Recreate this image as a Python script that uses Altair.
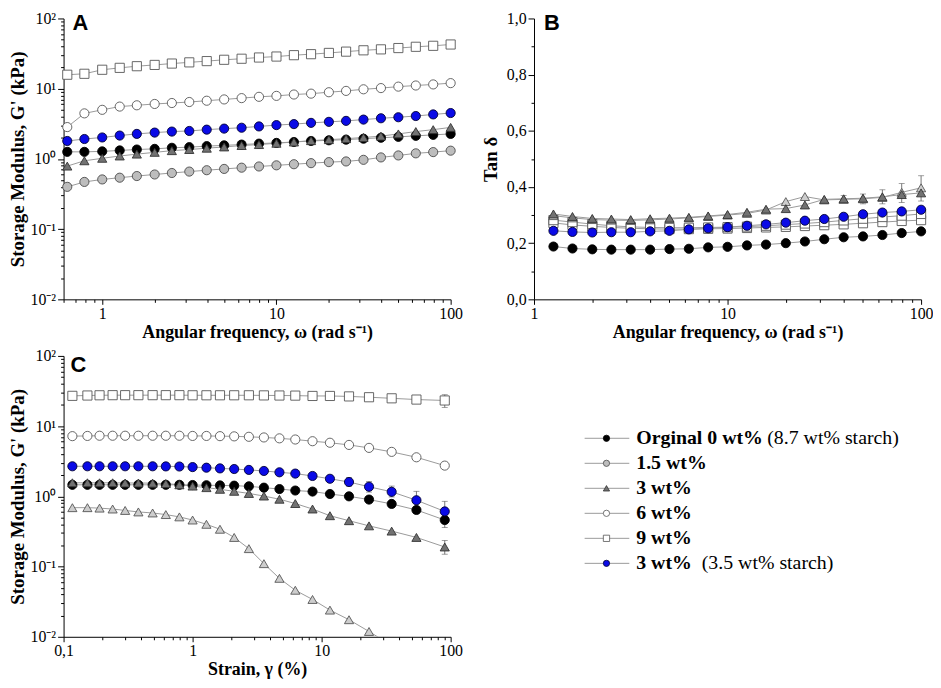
import altair as alt
import pandas as pd

# ---------------- data ----------------
# Panel A: storage modulus vs angular frequency
freq_a = [0.63, 0.79, 1.0, 1.26, 1.58, 2.0, 2.51, 3.16, 3.98, 5.01, 6.31, 7.94,
          10, 12.6, 15.8, 20, 25.1, 31.6, 39.8, 50.1, 63.1, 79.4, 100]
a_orig = [1.26, 1.26, 1.28, 1.32, 1.36, 1.39, 1.44, 1.47, 1.52, 1.56, 1.60, 1.65,
          1.69, 1.74, 1.80, 1.84, 1.88, 1.94, 2.00, 2.06, 2.13, 2.20, 2.27]
a_15 = [0.40, 0.47, 0.51, 0.54, 0.57, 0.60, 0.63, 0.66, 0.69, 0.72, 0.75, 0.78,
        0.81, 0.84, 0.87, 0.90, 0.92, 0.97, 1.05, 1.12, 1.20, 1.25, 1.31]
a_3 = [0.79, 0.94, 1.02, 1.10, 1.17, 1.24, 1.31, 1.36, 1.42, 1.48, 1.55, 1.60,
       1.67, 1.74, 1.82, 1.88, 1.94, 2.02, 2.11, 2.27, 2.45, 2.61, 2.81]
a_6 = [2.84, 4.45, 5.0, 5.56, 5.8, 6.06, 6.25, 6.46, 6.74, 7.03, 7.34, 7.66,
       7.9, 8.26, 8.5, 8.9, 9.3, 9.8, 10.2, 10.7, 11.1, 11.5, 12.0]
a_9 = [15.8, 16.3, 18.6, 19.8, 20.9, 21.8, 22.8, 23.7, 24.7, 25.8, 26.7, 27.8,
       28.7, 30.0, 31.0, 32.3, 33.7, 35.2, 36.3, 37.9, 39.5, 40.8, 42.6]
a_blue = [1.80, 1.92, 2.02, 2.15, 2.27, 2.37, 2.45, 2.50, 2.61, 2.70, 2.78, 2.90,
          3.03, 3.13, 3.26, 3.37, 3.48, 3.63, 3.79, 3.92, 4.08, 4.30, 4.50]

# Panel B: tan delta vs angular frequency
freq_b = [1.26, 1.58, 2.0, 2.51, 3.16, 3.98, 5.01, 6.31, 7.94, 10, 12.6, 15.8,
          20, 25.1, 31.6, 39.8, 50.1, 63.1, 79.4, 100]
b_orig = [0.188, 0.181, 0.178, 0.177, 0.177, 0.177, 0.179, 0.180, 0.185, 0.187,
          0.192, 0.195, 0.200, 0.206, 0.214, 0.221, 0.224, 0.229, 0.236, 0.242]
b_blue = [0.244, 0.240, 0.238, 0.239, 0.239, 0.242, 0.244, 0.249, 0.253, 0.257,
          0.262, 0.267, 0.273, 0.280, 0.286, 0.294, 0.303, 0.309, 0.313, 0.319]
b_3 = [0.304, 0.295, 0.288, 0.286, 0.284, 0.287, 0.289, 0.292, 0.297, 0.302,
       0.310, 0.321, 0.323, 0.336, 0.356, 0.358, 0.360, 0.365, 0.373, 0.379]
b_15 = [0.298, 0.290, 0.284, 0.282, 0.281, 0.283, 0.286, 0.290, 0.295, 0.300,
        0.306, 0.318, 0.348, 0.366, 0.354, 0.356, 0.358, 0.363, 0.381, 0.397]
b_6 = [0.282, 0.275, 0.268, 0.262, 0.258, 0.256, 0.255, 0.255, 0.256, 0.257,
       0.259, 0.262, 0.266, 0.270, 0.275, 0.281, 0.287, 0.293, 0.298, 0.304]
b_9 = [0.272, 0.265, 0.260, 0.256, 0.253, 0.251, 0.250, 0.250, 0.251, 0.252,
       0.254, 0.256, 0.258, 0.261, 0.264, 0.267, 0.271, 0.275, 0.279, 0.282]
# error bars (panel B)
eb_x = [39.8, 50.1, 63.1, 79.4, 100]
eb_lo = [0.345, 0.340, 0.340, 0.345, 0.350]
eb_hi = [0.370, 0.375, 0.390, 0.412, 0.440]

# Panel C: storage modulus vs strain
strain_c = [0.117, 0.153, 0.19, 0.24, 0.30, 0.38, 0.49, 0.62, 0.79, 1.0, 1.28, 1.63,
            2.1, 2.73, 3.57, 4.71, 6.25, 8.5, 11.6, 16.3, 23.3, 34.9, 54.3, 90]
c_9 = [27.0, 27.3, 27.5, 27.6, 27.6, 27.6, 27.6, 27.6, 27.6, 27.5, 27.5, 27.5,
       27.5, 27.5, 27.4, 27.3, 27.2, 26.9, 26.9, 26.5, 25.8, 24.9, 23.9, 23.2]
c_6 = [7.2, 7.25, 7.3, 7.3, 7.3, 7.3, 7.3, 7.3, 7.3, 7.25, 7.25, 7.2,
       7.15, 7.05, 6.9, 6.7, 6.45, 6.1, 5.8, 5.4, 4.9, 4.3, 3.6, 2.74]
c_blue = [2.68, 2.68, 2.68, 2.68, 2.68, 2.68, 2.68, 2.67, 2.66, 2.61, 2.56, 2.50,
          2.45, 2.38, 2.30, 2.20, 2.11, 1.95, 1.78, 1.60, 1.37, 1.16, 0.88, 0.61]
c_orig = [1.46, 1.46, 1.46, 1.46, 1.46, 1.46, 1.46, 1.46, 1.46, 1.45, 1.44, 1.43,
          1.42, 1.39, 1.33, 1.27, 1.21, 1.17, 1.08, 1.00, 0.90, 0.78, 0.64, 0.46]
c_3 = [1.56, 1.56, 1.56, 1.56, 1.55, 1.55, 1.54, 1.52, 1.46, 1.40, 1.33, 1.26,
       1.18, 1.10, 1.01, 0.91, 0.79, 0.66, 0.53, 0.45, 0.38, 0.32, 0.26, 0.19]
c_15 = [0.69, 0.69, 0.68, 0.66, 0.63, 0.60, 0.58, 0.55, 0.51, 0.46, 0.40, 0.34,
        0.26, 0.18, 0.11, 0.068, 0.046, 0.034, 0.024, 0.0175, 0.0119, 0.0075]
# error bars (panel C)
ec_x = [54.3, 90, 16.3, 23.3, 34.9, 54.3, 90, 90, 90]
ec_lo = [21.0, 18.5, 1.40, 1.15, 0.98, 0.72, 0.45, 0.36, 0.15]
ec_hi = [26.5, 28.0, 1.85, 1.62, 1.40, 1.18, 0.85, 0.55, 0.235]

# Legend
legend_keys = ["orig", "s15", "s3", "s6", "s9", "blue"]
legend_bold = ["Orginal 0 wt%", "1.5 wt%", "3 wt%", "6 wt%", "9 wt%", "3 wt%"]
legend_rows = [0, 1, 2, 3, 4, 5]

# series styling
keys = ["orig", "s15", "s3", "s6", "s9", "blue", "s15t", "s6sq"]
shapes = ["circle", "circle", "triangle-up", "circle", "square", "circle", "triangle-up", "square"]
fills = ["#000000", "#bdbdbd", "#727272", "#ffffff", "#ffffff", "#0a0ae6", "#cdcdcd", "#ffffff"]
strokes = ["#000000", "#4a4a4a", "#333333", "#555555", "#555555", "#000033", "#555555", "#555555"]
sizes = [85, 85, 120, 85, 72, 85, 120, 72]

SERIF = "Liberation Serif"
W, H = 390, 283


def long_df(x, series):
    rows = []
    for key, vals in series:
        for i, (xi, yi) in enumerate(zip(x, vals)):
            rows.append({"x": xi, "y": yi, "s": key, "i": i})
    return pd.DataFrame(rows)


def log_ticks(lo_exp, hi_exp, lo=None, hi=None):
    vals = []
    for e in range(lo_exp, hi_exp + 1):
        for k in range(1, 10):
            v = round(k * 10 ** e, 6)
            if (lo is None or v >= lo) and (hi is None or v <= hi):
                vals.append(v)
    return vals


def tick_size(test):
    return {"condition": {"test": test, "value": 6}, "value": 3}


AX = dict(labelFont=SERIF, labelFontSize=16, titleFont=SERIF, titleFontWeight="bold",
          labelColor="black", titleColor="black", labelOverlap=False)

sup_expr = ("datum.value==100?'10\u00b2':datum.value==10?'10\u00b9':datum.value==1?'10\u2070':"
            "datum.value==0.1?'10\u207b\u00b9':datum.value==0.01?'10\u207b\u00b2':''")
major_log_test = "indexof([0.01,0.1,1,10,100], datum.value) >= 0"


def y_log_axis():
    return alt.Axis(title="Storage Modulus, G' (kPa)", values=log_ticks(-2, 1, hi=100) + [100],
                    labelExpr=sup_expr, tickSize=tick_size(major_log_test),
                    titlePadding=3, titleFontSize=19, labelPadding=2, **AX)


def x_axis(title, values, label_expr, test):
    return alt.Axis(title=title, values=values, labelExpr=label_expr,
                    tickSize={"condition": {"test": test, "value": 5}, "value": 3},
                    labelFlush=False, titlePadding=2, labelPadding=1, titleFontSize=18, **AX)


def panel(df, xscale, yscale, xaxis, yaxis, label, label_x, label_y, err=None, clip=False):
    base = alt.Chart(df)
    x = alt.X("x:Q", scale=xscale, axis=xaxis)
    y = alt.Y("y:Q", scale=yscale, axis=yaxis)
    layers = []
    if err is not None:
        layers.append(alt.Chart(err).mark_errorbar(ticks={"size": 6}, color="#555555",
                                                   thickness=0.8).encode(
            x=alt.X("x:Q", scale=xscale, axis=xaxis),
            y=alt.Y("lo:Q", scale=yscale, axis=yaxis, title=yaxis.title),
            y2="hi:Q"))
    lines = base.mark_line(color="#9a9a9a", strokeWidth=1, clip=clip).encode(
        x=x, y=y, detail="s:N", order="i:Q")
    pts = base.mark_point(filled=True, opacity=1, strokeWidth=0.9, clip=clip).encode(
        x=x, y=y,
        shape=alt.Shape("s:N", scale=alt.Scale(domain=keys, range=shapes), legend=None),
        fill=alt.Fill("s:N", scale=alt.Scale(domain=keys, range=fills), legend=None),
        stroke=alt.Stroke("s:N", scale=alt.Scale(domain=keys, range=strokes), legend=None),
        size=alt.Size("s:N", scale=alt.Scale(domain=keys, range=sizes), legend=None),
    )
    lab = alt.Chart(pd.DataFrame({"t": [label]})).mark_text(
        font="Liberation Sans", fontWeight="bold", fontSize=22, align="left",
        baseline="alphabetic", color="black").encode(
        text="t:N", x=alt.value(label_x), y=alt.value(label_y))
    layers = [lines] + layers + [pts, lab]
    return alt.layer(*layers).properties(width=W, height=H)


# ----- Panel A -----
df_a = long_df(freq_a, [("s9", a_9), ("s6", a_6), ("s15", a_15), ("orig", a_orig),
                        ("s3", a_3), ("blue", a_blue)])
ax_a_x = x_axis("Angular frequency, \u03c9 (rad s\u207b\u00b9)",
                log_ticks(-1, 1, lo=0.6, hi=100) + [100],
                "indexof([1,10,100], datum.value) >= 0 ? format(datum.value, 'd') : ''",
                "indexof([1,10,100], datum.value) >= 0")
chart_a = panel(df_a, alt.Scale(type="log", domain=[0.6, 100], nice=False),
                alt.Scale(type="log", domain=[0.01, 100], nice=False),
                ax_a_x, y_log_axis(), "A", 9, 12)

# ----- Panel B -----
df_b = long_df(freq_b, [("s9", b_9), ("s6sq", b_6), ("s15t", b_15), ("s3", b_3),
                        ("orig", b_orig), ("blue", b_blue)])
err_b = pd.DataFrame({"x": eb_x, "lo": eb_lo, "hi": eb_hi})
ax_b_x = x_axis("Angular frequency, \u03c9 (rad s\u207b\u00b9)",
                log_ticks(0, 1, hi=100) + [100],
                "indexof([1,10,100], datum.value) >= 0 ? format(datum.value, 'd') : ''",
                "indexof([1,10,100], datum.value) >= 0")
ax_b_y = alt.Axis(title="Tan \u03b4", values=[round(i * 0.1, 1) for i in range(11)],
                  labelExpr="round(datum.value*10)%2==0 ? replace(format(datum.value, '.1f'), '.', ',') : ''",
                  tickSize=tick_size("round(datum.value*10)%2==0"),
                  titlePadding=6, titleFontSize=19, labelPadding=2, **AX)
chart_b = panel(df_b, alt.Scale(type="log", domain=[1, 100], nice=False),
                alt.Scale(domain=[0, 1], nice=False), ax_b_x, ax_b_y,
                "B", 10, 12, err=err_b)

# ----- Panel C -----
df_c = long_df(strain_c, [("s9", c_9), ("s6", c_6), ("s15t", c_15), ("orig", c_orig),
                          ("s3", c_3), ("blue", c_blue)])
err_c = pd.DataFrame({"x": ec_x, "lo": ec_lo, "hi": ec_hi})
ax_c_x = x_axis("Strain, \u03b3 (%)", log_ticks(-1, 1, hi=100) + [100],
                "datum.value==0.1?'0,1':indexof([1,10,100], datum.value) >= 0 ? format(datum.value, 'd') : ''",
                "indexof([0.1,1,10,100], datum.value) >= 0")
chart_c = panel(df_c, alt.Scale(type="log", domain=[0.1, 100], nice=False),
                alt.Scale(type="log", domain=[0.01, 100], nice=False),
                ax_c_x, y_log_axis(), "C", 7, 16, err=err_c, clip=True)

# ----- Legend panel -----
df_l = pd.DataFrame({"s": legend_keys, "t": legend_bold, "r": legend_rows})
ly = alt.Y("r:Q", scale=alt.Scale(domain=[0, 5], range=[83, 209]), axis=None)
lbase = alt.Chart(df_l)
l_rule = lbase.mark_rule(color="#9a9a9a", strokeWidth=1).encode(
    x=alt.value(51), x2=alt.value(96), y=ly)
l_pts = lbase.mark_point(filled=True, opacity=1, strokeWidth=0.8, size=40).encode(
    x=alt.value(73), y=ly,
    shape=alt.Shape("s:N", scale=alt.Scale(domain=keys, range=shapes), legend=None),
    fill=alt.Fill("s:N", scale=alt.Scale(domain=keys, range=fills), legend=None),
    stroke=alt.Stroke("s:N", scale=alt.Scale(domain=keys, range=strokes), legend=None),
)
l_bold = lbase.mark_text(font=SERIF, fontWeight="bold", fontSize=20, align="left",
                         baseline="middle", color="black").encode(
    x=alt.value(103), y=ly, text="t:N")
l_reg0 = lbase.transform_filter("datum.r == 0").mark_text(
    font=SERIF, fontSize=20, align="left", baseline="middle", color="black",
    text="(8.7 wt% starch)").encode(x=alt.value(235), y=ly)
l_reg5 = lbase.transform_filter("datum.r == 5").mark_text(
    font=SERIF, fontSize=20, align="left", baseline="middle", color="black",
    text="(3.5 wt% starch)").encode(x=alt.value(169), y=ly)
chart_l = alt.layer(l_rule, l_pts, l_bold, l_reg0, l_reg5).properties(width=W, height=H)

chart = alt.concat(chart_a, chart_b, chart_c, chart_l, columns=2,
                   spacing={"row": 57, "column": 84}, bounds="flush").resolve_scale(
    shape="independent", fill="independent", stroke="independent", size="independent"
).configure_view(stroke=None).configure_axis(
    grid=False, domainColor="black", tickColor="black", domainWidth=1, tickWidth=1,
).properties(padding={"left": 0, "top": 0, "right": 0, "bottom": 0})

chart.save("out.html", embed_options={"renderer": "svg", "actions": False})
